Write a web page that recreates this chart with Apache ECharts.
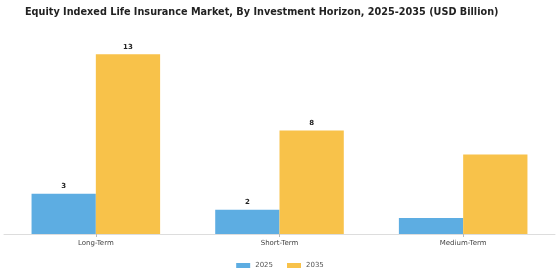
<!DOCTYPE html>
<html><head><meta charset="utf-8">
<script src="https://cdn.jsdelivr.net/npm/echarts@6/dist/echarts.min.js"></script>
<style>html,body{margin:0;padding:0;background:#fff}#c{width:560px;height:280px}</style>
</head><body><div id="c"></div>
<script>
var categories = ["Long-Term", "Short-Term", "Medium-Term"];
var seriesNames = ["2025", "2035"];
var values2025 = [2.96, 1.79, 1.18];
var values2035 = [13.24, 7.62, 5.85];
var labelShown = [true, true, false];

function mk(vals){
  return vals.map(function(v,i){ return {value:v, label:{show:labelShown[i]}}; });
}
var chart = echarts.init(document.getElementById('c'));
var lbl = {show:true, position:'top', fontSize:7, fontWeight:'bold', color:'#222', fontFamily:'DejaVu Sans', distance:4,
  formatter:function(p){return Math.round(p.value);}};
chart.setOption({
  animation:false,
  title:{text:'Equity Indexed Life Insurance Market, By Investment Horizon, 2025-2035 (USD Billion)',
    left:20, top:2, textStyle:{fontSize:9.7, fontWeight:'bold', color:'#222', fontFamily:'DejaVu Sans'}},
  legend:{data:seriesNames, bottom:6, left:'center', itemWidth:14, itemHeight:5, itemGap:14,
    textStyle:{fontSize:7, color:'#555', fontFamily:'DejaVu Sans'}, icon:'rect'},
  grid:{left:4, right:5, top:44, bottom:46},
  xAxis:{type:'category', data:categories,
    axisLine:{lineStyle:{color:'#ddd'}}, axisTick:{show:true, alignWithLabel:true, length:3, lineStyle:{color:'#bbb'}},
    axisLabel:{fontSize:7, color:'#444', fontFamily:'DejaVu Sans', margin:6}},
  yAxis:{type:'value', min:0, max:14, show:false, splitLine:{show:false}},
  series:[
    {name:seriesNames[0], type:'bar', data:mk(values2025), itemStyle:{color:'#5DADE2'}, barGap:'0%', barCategoryGap:'30%', label:lbl},
    {name:seriesNames[1], type:'bar', data:mk(values2035), itemStyle:{color:'#F8C24A'}, label:lbl}
  ]
});
</script></body></html>
